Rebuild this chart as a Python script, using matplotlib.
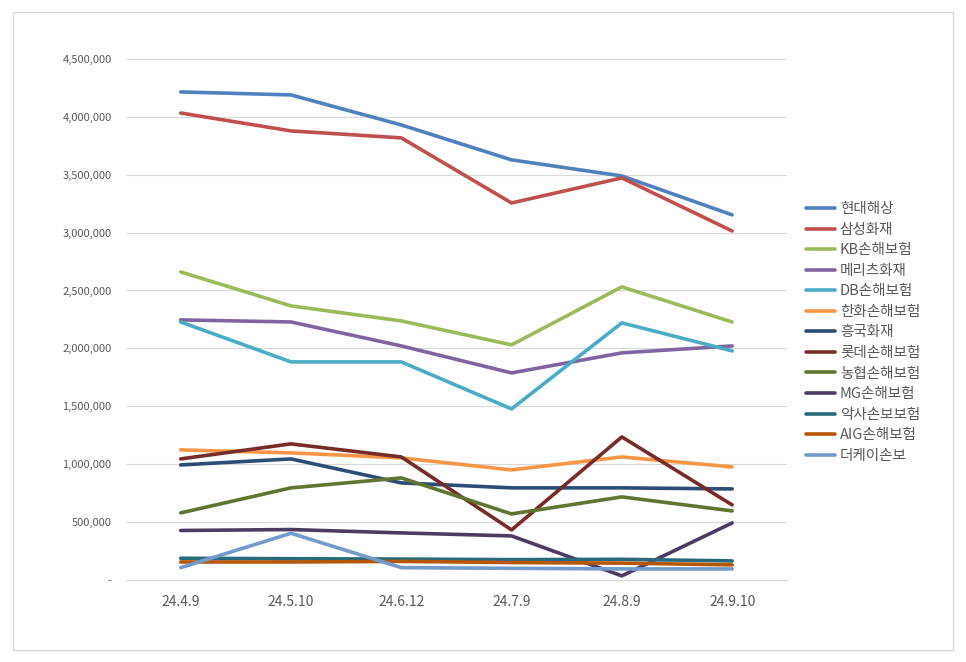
import matplotlib.pyplot as plt
from matplotlib.patches import Rectangle
from matplotlib.ticker import FuncFormatter

plt.rcParams['font.family'] = ['Noto Sans CJK KR', 'DejaVu Sans']

dates = ['24.4.9', '24.5.10', '24.6.12', '24.7.9', '24.8.9', '24.9.10']

hyundai = [4215000, 4189000, 3930000, 3628000, 3489000, 3153000]
samsung = [4033000, 3878000, 3818000, 3256000, 3472000, 3014000]
kb = [2660000, 2367000, 2237000, 2030000, 2531000, 2228000]
meritz = [2246000, 2228000, 2021000, 1788000, 1961000, 2021000]
db = [2228000, 1883000, 1883000, 1477000, 2220000, 1978000]
hanwha = [1123000, 1097000, 1054000, 950000, 1062000, 976000]
heungkuk = [993000, 1045000, 838000, 795000, 795000, 786000]
lotte = [1045000, 1175000, 1062000, 432000, 1235000, 648000]
nh = [579000, 795000, 881000, 570000, 717000, 596000]
mg = [427000, 435000, 406000, 380000, 35000, 492000]
axa = [187000, 183000, 180000, 175000, 178000, 164000]
aig = [155000, 155000, 160000, 150000, 145000, 130000]
thek = [106000, 403000, 106000, 100000, 95000, 95000]

series = [
    ('현대해상', hyundai, '#4F81BD'),
    ('삼성화재', samsung, '#C0504D'),
    ('KB손해보험', kb, '#9BBB59'),
    ('메리츠화재', meritz, '#8064A2'),
    ('DB손해보험', db, '#4BACC6'),
    ('한화손해보험', hanwha, '#F79646'),
    ('흥국화재', heungkuk, '#2C4D75'),
    ('롯데손해보험', lotte, '#772C2A'),
    ('농협손해보험', nh, '#5F7530'),
    ('MG손해보험', mg, '#4D3B62'),
    ('악사손보보험', axa, '#276A7C'),
    ('AIG손해보험', aig, '#B65708'),
    ('더케이손보', thek, '#729ACA'),
]

fig = plt.figure(figsize=(9.66, 6.62), dpi=100)
fig.patches.append(Rectangle((13 / 966, 12 / 662), 940 / 966, 638 / 662,
                             transform=fig.transFigure, fill=False,
                             edgecolor='#D9D9D9', linewidth=1))
ax = fig.add_axes([0.130, 0.124, 0.685, 0.787])

x = range(len(dates))
for name, vals, color in series:
    ax.plot(x, vals, color=color, linewidth=2.6, label=name,
            solid_capstyle='round', solid_joinstyle='round')

ax.set_xlim(-0.5, 5.5)
ax.set_ylim(0, 4500000)
ax.set_yticks(range(0, 4500001, 500000))
ax.yaxis.set_major_formatter(FuncFormatter(lambda v, p: '-' if v == 0 else f'{int(v):,}'))
ax.set_xticks(list(x))
ax.set_xticklabels(dates)
ax.grid(axis='y', color='#D9D9D9', linewidth=0.8)
ax.set_axisbelow(True)
for s in ['top', 'right', 'left']:
    ax.spines[s].set_visible(False)
ax.spines['bottom'].set_color('#D9D9D9')
ax.tick_params(axis='y', length=0, labelsize=8, labelcolor='#595959', pad=10)
ax.tick_params(axis='x', length=0, labelsize=10, labelcolor='#595959', pad=11)

ax.legend(loc='center left', bbox_to_anchor=(1.0, 0.475), frameon=False,
          fontsize=10.5, labelcolor='#595959', handlelength=2.0,
          handletextpad=0.3, labelspacing=0.45, borderaxespad=0.9)

fig.savefig('out.png', dpi=100)
